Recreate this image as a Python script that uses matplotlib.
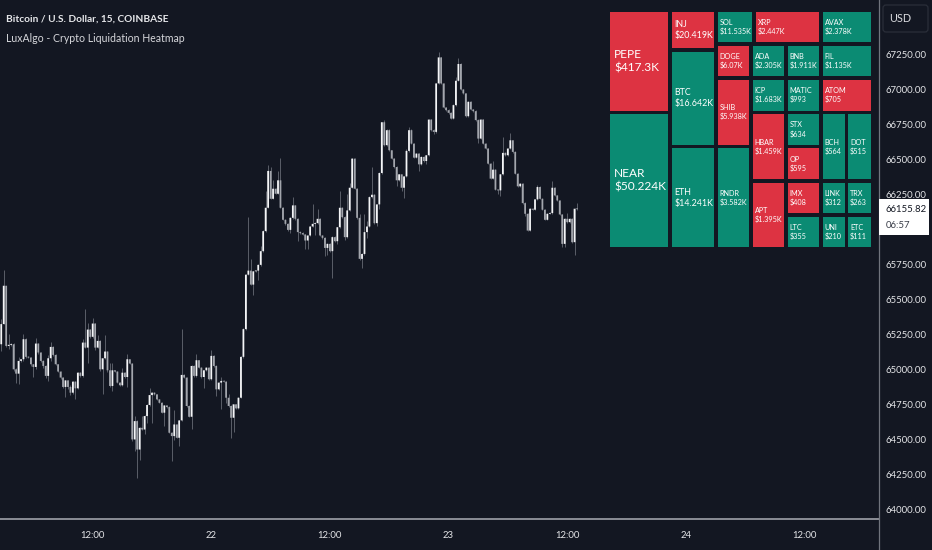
import matplotlib
matplotlib.use("Agg")
import matplotlib.pyplot as plt
from matplotlib.patches import Rectangle, FancyBboxPatch
import numpy as np

DPI = 100
WIDTH, HEIGHT = 932, 550
BG = "#131722"
RED = "#dd3342"
GREEN = "#0b8b73"

closes = [
    65335, 65609, 65179, 65187, 65191, 65012, 64981, 65072, 65084, 65227,
    65101, 65096, 65048, 65029, 65196, 65132, 65072, 65036, 64965, 65091,
    65172, 65115, 65048, 64996, 64953, 64886, 64933, 64886, 64845, 64924,
    64876, 64988, 64965, 65203, 65167, 65296, 65244, 65339, 65167, 65215,
    65012, 65091, 65139, 65005, 64893, 65005, 64996, 64917, 64898, 64988,
    64957, 65084, 65053, 64511, 64642, 64439, 64594, 64582, 64678, 64757,
    64828, 64845, 64833, 64797, 64773, 64702, 64754, 64742, 64559, 64535,
    64618, 64523, 64647, 64972, 64953, 64750, 64673, 65036, 64965, 65077,
    65024, 64957, 65005, 65024, 64941, 65108, 65036, 64869, 64917, 64929,
    64924, 64809, 64750, 64666, 64762, 64733, 64809, 65101, 65299, 65688,
    65717,
    65617, 65712, 65717, 65758, 65856, 65999, 66166, 66429, 66230, 66302,
    66266, 66362, 66166, 66080, 66051, 66008, 66094, 66183, 66087, 65992,
    65985, 65975, 65932, 65968, 66032, 66051, 66056, 66087, 65968, 65951,
    65879, 65908, 65856, 65956, 65927, 66027, 66166, 66099, 65956, 66147,
    66309, 66517, 66302, 66094, 65801, 65836, 65992, 66032, 66242, 66259,
    66056, 66190, 66414, 66777, 66613, 66720, 66577,
    66517, 66457, 66362, 66405, 66309, 66390, 66572, 66720, 66624, 66524,
    66553, 66476, 66529, 66500, 66541, 66796, 66720, 66708, 67054, 67240,
    67054, 66882, 66863, 66844, 66803, 66899, 67073, 67193, 67011, 66983,
    66820, 66923, 66868, 66856, 66792, 66660, 66796, 66624, 66589, 66481,
    66374, 66438, 66295, 66290, 66405, 66558, 66541, 66589, 66648, 66565,
    66409, 66319, 66338, 66199, 66123, 66003, 66159, 66152, 66226, 66314,
    66230, 66152, 66080, 66123, 66128, 66309, 66254, 66218, 66118, 65908,
    66087, 66063, 66087, 65920, 66159, 66155.82,
]
first_open = 65191

# wick lengths above / below the body
upper_wicks = [
    35, 110, 0, 75, 10, 10, 10, 25, 5, 40,
    10, 5, 5, 5, 40, 5, 5, 5, 5, 20,
    35, 5, 5, 5, 5, 5, 5, 5, 15, 5,
    5, 5, 5, 25, 240, 50, 5, 40, 5, 40,
    5, 5, 120, 5, 50, 50, 5, 5, 5, 35,
    5, 40, 5, 5, 35, 5, 5, 85, 5, 5,
    50, 5, 5, 5, 5, 5, 5, 5, 5, 5,
    105, 5, 5, 325, 5, 5, 5, 5, 5, 45,
    5, 5, 5, 5, 5, 40, 5, 5, 5, 30,
    5, 5, 30, 5, 5, 5, 5, 5, 5, 5,
    380,
    85, 5, 5, 5, 40, 5, 120, 40, 30, 60,
    5, 70, 160, 5, 5, 5, 5, 60, 5, 5,
    5, 5, 5, 5, 5, 140, 5, 70, 5, 5,
    5, 5, 5, 5, 5, 5, 120, 5, 5, 120,
    35, 5, 5, 5, 30, 5, 130, 40, 5, 195,
    5, 5, 5, 5, 15, 5, 5,
    5, 5, 5, 5, 5, 5, 15, 25, 5, 5,
    5, 5, 5, 5, 5, 5, 5, 5, 5, 40,
    5, 5, 5, 5, 5, 5, 25, 40, 5, 5,
    5, 5, 5, 5, 5, 5, 5, 5, 5, 5,
    5, 60, 5, 5, 5, 115, 5, 5, 50, 5,
    5, 5, 5, 5, 5, 5, 5, 5, 5, 15,
    5, 5, 5, 5, 5, 45, 5, 5, 5, 5,
    5, 40, 5, 5, 5, 40,
]
lower_wicks = [
    50, 0, 10, 25, 10, 10, 70, 75, 10, 15,
    10, 5, 10, 75, 15, 10, 10, 15, 15, 40,
    20, 5, 5, 5, 10, 5, 70, 15, 20, 10,
    75, 5, 5, 5, 5, 110, 5, 5, 15, 5,
    10, 175, 5, 10, 10, 35, 5, 5, 5, 5,
    5, 70, 5, 10, 80, 200, 75, 5, 30, 50,
    10, 200, 5, 5, 5, 5, 95, 5, 5, 180,
    30, 5, 60, 5, 5, 5, 5, 90, 5, 5,
    5, 5, 75, 5, 5, 5, 5, 50, 5, 190,
    5, 40, 5, 145, 100, 5, 5, 5, 5, 5,
    5,
    5, 75, 5, 70, 5, 5, 5, 5, 5, 5,
    5, 5, 5, 5, 5, 5, 25, 5, 5, 60,
    5, 5, 60, 60, 5, 5, 80, 5, 5, 5,
    60, 50, 5, 190, 5, 20, 5, 5, 20, 5,
    5, 5, 5, 5, 5, 65, 10, 40, 5, 5,
    5, 20, 30, 5, 5, 5, 5,
    5, 5, 40, 5, 20, 70, 5, 5, 5, 5,
    5, 45, 5, 5, 20, 5, 5, 15, 5, 5,
    5, 5, 5, 5, 5, 5, 5, 5, 5, 5,
    5, 5, 5, 5, 5, 30, 5, 5, 5, 5,
    5, 5, 5, 25, 40, 5, 5, 5, 5, 5,
    5, 5, 5, 5, 15, 5, 5, 5, 5, 5,
    5, 5, 5, 5, 5, 5, 5, 5, 5, 20,
    20, 5, 5, 5, 95, 5,
]

price_ticks = [67250, 67000, 66750, 66500, 66250, 65750, 65500, 65250,
               65000, 64750, 64500, 64250, 64000]
time_labels = ["12:00", "22", "12:00", "23", "12:00", "24", "12:00"]
time_ticks = [0, 48, 96, 144, 192, 240, 288]

coins = ["PEPE", "NEAR", "INJ", "BTC", "ETH", "SOL", "XRP", "AVAX", "DOGE", "ADA",
         "BNB", "FIL", "SHIB", "RNDR", "ICP", "MATIC", "ATOM", "HBAR", "APT", "STX",
         "OP", "IMX", "LTC", "BCH", "DOT", "LINK", "TRX", "UNI", "ETC"]
amounts = ["$417.3K", "$50.224K", "$20.419K", "$16.642K", "$14.241K", "$11.535K",
           "$2.447K", "$2.378K", "$6.07K", "$2.305K", "$1.911K", "$1.135K", "$5.938K",
           "$3.582K", "$1.683K", "$993", "$705", "$1.459K", "$1.395K", "$634", "$595",
           "$408", "$355", "$564", "$515", "$312", "$263", "$210", "$111"]
sides = ["short", "long", "short", "long", "long", "long", "short", "long", "short", "long",
         "long", "long", "short", "long", "long", "long", "short", "short", "short", "long",
         "short", "short", "long", "long", "long", "long", "long", "long", "long"]

# treemap grid, pixels of the picture
col_edges = [608.5, 670, 716, 751, 754, 786, 821, 846.5, 872.2]
row_edges = [10.2, 44, 50, 78, 112.3, 146.7, 181, 215, 248.8]
# first col, end col, first row, end row
spans = [(0, 1, 0, 4), (0, 1, 4, 8), (1, 2, 0, 2), (1, 2, 2, 5), (1, 2, 5, 8),
         (2, 4, 0, 1), (4, 6, 0, 1), (6, 8, 0, 1), (2, 3, 1, 3), (3, 5, 1, 3),
         (5, 6, 1, 3), (6, 8, 1, 3), (2, 3, 3, 5), (2, 3, 5, 8), (3, 5, 3, 4),
         (5, 6, 3, 4), (6, 8, 3, 4), (3, 5, 4, 6), (3, 5, 6, 8), (5, 6, 4, 5),
         (5, 6, 5, 6), (5, 6, 6, 7), (5, 6, 7, 8), (6, 7, 4, 6), (7, 8, 4, 6),
         (6, 7, 6, 7), (7, 8, 6, 7), (6, 7, 7, 8), (7, 8, 7, 8)]
GAP = 3.2

plt.rcParams["font.family"] = ["Lato", "DejaVu Sans"]

fig = plt.figure(figsize=(WIDTH / DPI, HEIGHT / DPI), dpi=DPI, facecolor=BG)

# price pane
PLOT_W, PLOT_H = 878.5, 518.5
ax = fig.add_axes([0, 1 - PLOT_H / HEIGHT, PLOT_W / WIDTH, PLOT_H / HEIGHT], facecolor=BG)
ax.set_axis_off()
ax.set_xlim(-37.5, (PLOT_W - 92.7) / 2.471)
ax.set_ylim(67250 - (PLOT_H - 56) * 7.143, 67250 + 56 * 7.143)

closes = np.array(closes, dtype=float)
opens = np.concatenate([[first_open], closes[:-1]])
idx = np.arange(len(closes)) - 37
tops = np.maximum(opens, closes)
bottoms = np.minimum(opens, closes)
highs = tops + np.array(upper_wicks)
lows = bottoms - np.array(lower_wicks)
body_colors = ["#f4f5f7" if c >= o else "#a3a6ad" for o, c in zip(opens, closes)]

ax.vlines(idx, lows, highs, colors="#5b5f69", linewidth=0.7, zorder=1)
bars = ax.bar(idx, np.maximum(tops - bottoms, 6), bottom=bottoms, width=0.72,
              color=body_colors, linewidth=0, zorder=2)
for bar in bars:
    bar.set_snap(False)

# overlay in picture pixels for the frame, the labels and the heatmap
ov = fig.add_axes([0, 0, 1, 1], facecolor="none")
ov.set_axis_off()
ov.set_xlim(0, WIDTH)
ov.set_ylim(HEIGHT, 0)

ov.plot([0, PLOT_W], [519, 519], color="#8b8e96", linewidth=1.4, zorder=3)
ov.plot([PLOT_W, PLOT_W], [0, HEIGHT], color="#70747d", linewidth=0.9, zorder=3)

ov.text(6.5, 19.5, "Bitcoin / U.S. Dollar, 15, COINBASE", color="#e6e7ea", fontsize=7.3,
        va="center", ha="left", fontweight="bold")
ov.text(6.5, 38, "LuxAlgo - Crypto Liquidation Heatmap", color="#d5d6da", fontsize=7.6,
        va="center", ha="left")

for p in price_ticks:
    y = 56 + (67250 - p) / 7.143
    ov.text(885, y, f"{p:.2f}", color="#e4e5e8", fontsize=6.9, va="center", ha="left")

for t, label in zip(time_ticks, time_labels):
    ov.text(92.7 + t * 2.471, 535, label, color="#e4e5e8", fontsize=6.9, va="center", ha="center")

ov.add_patch(FancyBboxPatch((883, 5), 45, 27, boxstyle="round,pad=0,rounding_size=3",
                            facecolor=BG, edgecolor="#2a2e39", linewidth=0.9))
ov.text(889, 18, "USD", color="#d9dade", fontsize=7.8, va="center", ha="left")

ov.add_patch(Rectangle((PLOT_W, 199), 50, 36, facecolor="white", edgecolor="none", zorder=4))
ov.text(885.5, 209, f"{closes[-1]:.2f}", color="#131722", fontsize=6.9, va="center", ha="left", zorder=5)
ov.text(885.5, 225, "06:57", color="#3a3e49", fontsize=6.9, va="center", ha="left", zorder=5)

for coin, amount, side, (c0, c1, r0, r1) in zip(coins, amounts, sides, spans):
    x0 = col_edges[c0] + GAP / 2
    x1 = col_edges[c1] - GAP / 2
    y0 = row_edges[r0] + GAP / 2
    y1 = row_edges[r1] - GAP / 2
    ov.add_patch(Rectangle((x0, y0), x1 - x0, y1 - y0, linewidth=0,
                           facecolor=RED if side == "short" else GREEN, zorder=2))
    if c0 == 0:
        size, pad, spacing = 8.6, 4, 1.3
    elif c0 == 1:
        size, pad, spacing = 6.4, 3, 1.3
    else:
        size, pad, spacing = 5.2, 2, 1.25
    ov.text(x0 + pad, (y0 + y1) / 2, f"{coin}\n{amount}", color="white", fontsize=size,
            va="center", ha="left", linespacing=spacing, zorder=3)

fig.savefig("out.png", dpi=DPI, facecolor=BG)
